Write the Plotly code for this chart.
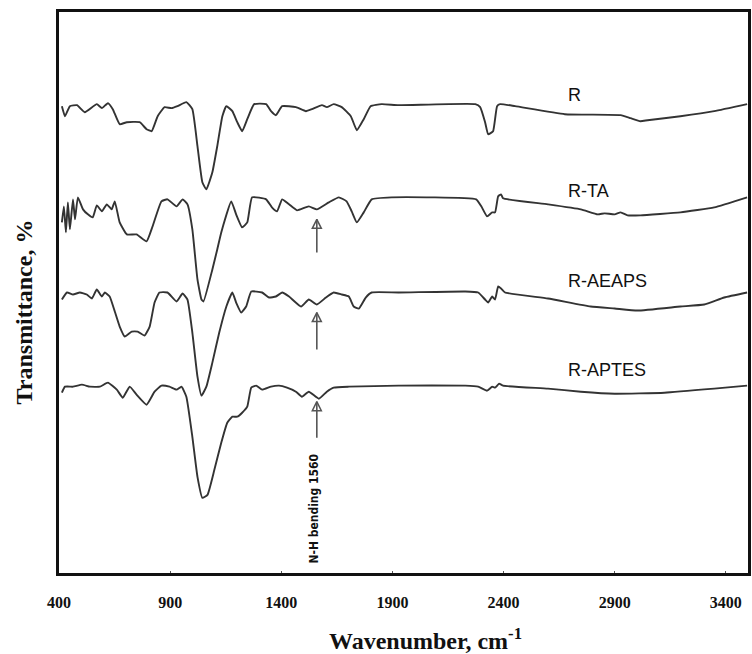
import plotly.graph_objects as go

# ---- data (wavenumber cm-1, transmittance in arbitrary offset units) ----
r_x = [413, 427, 449, 481, 516, 570, 593, 620, 642, 673, 705, 763, 794, 817, 844, 875, 906, 933, 973, 1000,
       1023, 1045, 1063, 1090, 1112, 1135, 1153, 1180, 1202, 1224, 1247, 1278, 1332, 1354, 1376, 1404, 1466, 1511,
       1538, 1583, 1605, 1636, 1672, 1713, 1740, 1771, 1802, 1852, 1928, 2273, 2295, 2317, 2331, 2353, 2371, 2385,
       2452, 2676, 2927, 2972, 3016, 3048, 3196, 3348, 3496]
r_y = [466, 456, 466, 467, 460, 468, 464, 469, 463, 448, 450, 450, 443, 441, 456, 465, 464, 466, 470, 463,
       426, 390, 383, 400, 426, 456, 466, 461, 450, 441, 453, 468, 468, 461, 457, 466, 465, 461,
       463, 467, 465, 468, 465, 456, 442, 453, 466, 468, 467, 468, 465, 450, 438, 441, 466, 468,
       466, 458, 457, 454, 451, 452, 456, 461, 468]

rta_x = [413, 422, 431, 440, 449, 463, 472, 485, 508, 530, 552, 570, 593, 615, 637, 651, 673, 705, 749, 794,
         821, 861, 888, 929, 956, 978, 1000, 1023, 1041, 1050, 1090, 1112, 1130, 1175, 1197, 1224, 1247, 1269,
         1332, 1358, 1381, 1404, 1435, 1471, 1524, 1560, 1614, 1659, 1694, 1717, 1740, 1771, 1807, 1896, 2277,
         2300, 2326, 2349, 2362, 2376, 2389, 2398, 2600, 2748, 2824, 2855, 2900, 2927, 2958, 3016, 3196, 3348, 3496]
rta_y = [350, 366, 340, 370, 343, 373, 353, 375, 363, 358, 355, 367, 361, 368, 363, 371, 350, 338, 338, 331,
         346, 371, 373, 366, 373, 368, 343, 293, 273, 271, 303, 323, 340, 371, 358, 345, 350, 375,
         373, 365, 361, 373, 368, 362, 366, 363, 370, 375, 371, 361, 350, 360, 373, 375, 373,
         366, 356, 360, 360, 376, 378, 374, 368, 363, 358, 359, 358, 360, 357, 357, 360, 365, 375]

raeaps_x = [413, 436, 463, 494, 525, 548, 570, 593, 606, 628, 651, 673, 696, 727, 754, 785, 808, 830, 852, 888,
            929, 956, 978, 1000, 1023, 1041, 1063, 1090, 1121, 1153, 1180, 1197, 1220, 1242, 1265, 1314, 1345,
            1376, 1404, 1435, 1489, 1524, 1560, 1601, 1636, 1672, 1704, 1726, 1749, 1780, 1807, 1928, 2228,
            2286, 2317, 2331, 2349, 2362, 2376, 2389, 2407, 2600, 2792, 2900, 3003, 3196, 3303, 3393, 3496]
raeaps_y = [273, 280, 278, 280, 278, 274, 283, 276, 280, 276, 261, 246, 236, 241, 241, 237, 246, 270, 280, 280,
            271, 279, 273, 240, 196, 177, 186, 210, 240, 266, 280, 270, 260, 266, 281, 280, 275,
            276, 280, 276, 266, 273, 268, 275, 280, 278, 276, 266, 264, 275, 280, 280, 281,
            280, 273, 270, 276, 273, 286, 284, 280, 274, 266, 264, 262, 266, 268, 275, 280]

raptes_x = [413, 427, 463, 503, 539, 584, 620, 660, 687, 718, 749, 794, 830, 861, 897, 929, 951, 973, 1000, 1023,
            1045, 1068, 1099, 1130, 1157, 1180, 1202, 1224, 1247, 1265, 1287, 1314, 1354, 1390, 1426, 1466, 1493,
            1524, 1569, 1605, 1636, 1704, 1928, 2228, 2286, 2326, 2349, 2362, 2380, 2398, 2600, 2748, 2900, 3124,
            3348, 3496]
raptes_y = [180, 186, 186, 188, 186, 186, 190, 183, 175, 186, 178, 168, 181, 187, 186, 183, 186, 176, 136, 96,
            75, 78, 103, 130, 150, 156, 156, 160, 166, 185, 187, 183, 186, 187, 185, 181, 176,
            181, 174, 181, 185, 186, 187, 187, 186, 182, 186, 185, 189, 187, 184, 181, 179, 180,
            184, 187]

series_names = ["R", "R-TA", "R-AEAPS", "R-APTES"]
series_label_y = [477, 381, 291, 203]
label_x = 2680

nh_band = 1560
arrow_tips = [353, 260, 171]
arrow_tails = [320, 223, 135]
nh_text = "N-H bending 1560"
nh_text_y = 64

x_ticks = [400, 900, 1400, 1900, 2400, 2900, 3400]

line_color = "#333333"
arrow_color = "#555555"

fig = go.Figure()
for xs, ys, nm in [(r_x, r_y, "R"), (rta_x, rta_y, "R-TA"), (raeaps_x, raeaps_y, "R-AEAPS"),
                   (raptes_x, raptes_y, "R-APTES")]:
    fig.add_trace(go.Scatter(x=xs, y=ys, mode="lines", name=nm,
                             line=dict(color=line_color, width=1.9, shape="spline", smoothing=0.4),
                             showlegend=False))

# arrows pointing at the N-H band
for tip, tail in zip(arrow_tips, arrow_tails):
    fig.add_trace(go.Scatter(x=[nh_band, nh_band], y=[tail, tip], mode="lines", showlegend=False,
                             line=dict(color=arrow_color, width=1.6), hoverinfo="skip"))
    fig.add_trace(go.Scatter(x=[nh_band], y=[tip], mode="markers", showlegend=False, hoverinfo="skip",
                             marker=dict(symbol="arrow-up-open", size=9, color=arrow_color,
                                         line=dict(color=arrow_color, width=1.5))))

annotations = []
for nm, ly in zip(series_names, series_label_y):
    annotations.append(dict(x=label_x, y=ly, xref="x", yref="y", text=nm, showarrow=False,
                            xanchor="left", yanchor="middle",
                            font=dict(family="Liberation Sans", size=18, color="#111111")))
annotations.append(dict(x=nh_band - 14, y=nh_text_y, xref="x", yref="y", text="<b>" + nh_text + "</b>",
                        showarrow=False, textangle=-90, xanchor="center", yanchor="middle",
                        font=dict(family="DejaVu Sans Condensed, Liberation Sans", size=12, color="#111111")))
annotations.append(dict(x=0.532, y=-0.118, xref="paper", yref="paper",
                        text="<b>Wavenumber, cm<sup>-1</sup></b>", showarrow=False,
                        xanchor="center", yanchor="middle",
                        font=dict(family="Liberation Serif", size=24, color="#111111")))
annotations.append(dict(x=-0.051, y=0.466, xref="paper", yref="paper",
                        text="<b>Transmittance, %</b>", showarrow=False, textangle=-90,
                        xanchor="center", yanchor="middle",
                        font=dict(family="Liberation Serif", size=24, color="#111111")))

fig.update_layout(
    width=752, height=654,
    margin=dict(l=59, r=1, t=12, b=81),
    paper_bgcolor="white", plot_bgcolor="white",
    annotations=annotations,
    xaxis=dict(range=[400, 3500], tickvals=x_ticks, ticktext=[str(v) for v in x_ticks],
               showgrid=False, zeroline=False, showline=True, linecolor="#111111", linewidth=2.5,
               mirror=True, ticks="inside", ticklen=2, tickcolor="#555555",
               ticklabelstandoff=13,
               tickfont=dict(family="Liberation Serif", size=16, color="#111111", weight="bold")),
    yaxis=dict(range=[0, 560], showticklabels=False, showgrid=False, zeroline=False, showline=True,
               linecolor="#111111", linewidth=2.5, mirror=True, ticks=""),
)

fig.write_html("out.html")
